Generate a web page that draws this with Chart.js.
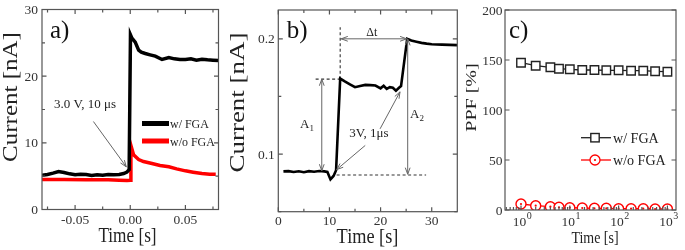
<!DOCTYPE html>
<html lang="en">
<head>
<meta charset="UTF-8">
<title>Current response and PPF</title>
<script src="https://cdn.jsdelivr.net/npm/chart.js"></script>
<style>
  body { margin: 0; background: #fff; }
  canvas { position: absolute; left: 0; top: 0; }
</style>
</head>
<body>
<canvas id="chartA" width="685" height="250"></canvas>
<canvas id="chartB" width="685" height="250"></canvas>
<canvas id="chartC" width="685" height="250"></canvas>
<script>
// ---- panel a) current vs time around the pulse
const aTimeW = [-0.080, -0.075, -0.070, -0.065, -0.060, -0.055, -0.050, -0.045, -0.040, -0.035, -0.030, -0.025, -0.020, -0.015, -0.010, -0.006, -0.003, -0.001, 0.0002, 0.0015, 0.0045, 0.0076, 0.010, 0.0136, 0.018, 0.0227, 0.0288, 0.035, 0.040, 0.045, 0.050, 0.055, 0.060, 0.065, 0.070, 0.075, 0.080];
const aCurW  = [5.15, 5.25, 5.45, 5.7, 5.55, 5.35, 5.2, 5.3, 5.25, 5.1, 5.2, 5.15, 5.25, 5.2, 5.25, 5.4, 5.6, 6.0, 26.2, 25.7, 25.1, 23.9, 23.6, 23.4, 23.2, 23.0, 22.5, 22.8, 22.6, 22.5, 22.5, 22.6, 22.4, 22.55, 22.45, 22.4, 22.35];
const aTimeWo = [-0.080, -0.060, -0.040, -0.020, -0.010, -0.003, 0.0003, 0.0006, 0.003, 0.0076, 0.012, 0.0197, 0.027, 0.035, 0.042, 0.050, 0.057, 0.065, 0.072, 0.0775];
const aCurWo  = [4.5, 4.5, 4.45, 4.45, 4.4, 4.35, 4.4, 9.6, 8.2, 7.5, 7.2, 6.9, 6.6, 6.4, 6.1, 5.8, 5.6, 5.4, 5.3, 5.3];
const aXTicks = [-0.05, 0, 0.05];
const aXLabels = ['-0.05', '0.00', '0.05'];
const aXMinor = [-0.075, -0.025, 0.025, 0.075];
const aYTicks = [0, 10, 20, 30];
const aYMinor = [5, 15, 25];

// ---- panel b) paired pulses
const bTime = [1, 2, 3, 4, 5, 6, 7, 8, 9, 9.6, 10.2, 10.8, 11.3, 12.1, 13, 14, 15, 16, 17, 18, 19, 20, 20.6, 21.2, 21.8, 22.4, 23, 23.6, 24, 25.2, 26, 27, 28, 29, 30, 32, 35];
const bCur  = [0.085, 0.0852, 0.0845, 0.0851, 0.0843, 0.0852, 0.0847, 0.0853, 0.085, 0.0845, 0.078, 0.081, 0.086, 0.1655, 0.163, 0.1605, 0.158, 0.159, 0.16, 0.1598, 0.1595, 0.157, 0.1592, 0.1565, 0.158, 0.1575, 0.155, 0.1575, 0.159, 0.2, 0.1985, 0.1975, 0.1965, 0.1958, 0.1953, 0.195, 0.1945];
const bXTicks = [0, 10, 20, 30];
const bXMinor = [5, 15, 25];
const bYTicks = [0.1, 0.2];
const bYMinor = [0.05, 0.15];

// ---- panel c) PPF vs interval
const cTime = [1, 2, 4, 6, 10, 18, 32, 56, 100, 180, 320, 560, 1000];
const cWith = [147.3, 144.3, 142.7, 141.3, 140.7, 140, 140, 139.7, 139.7, 139.3, 139.3, 138.7, 138.3];
const cWithout = [6, 4.3, 3.3, 2.7, 2.3, 2, 1.7, 1.7, 1.3, 1.3, 1.3, 1, 1];
const cXTicks = [1, 10, 100, 1000];
const cXExp = ['0', '1', '2', '3'];
const cYTicks = [0, 50, 100, 150, 200];

const SERIF = '"Liberation Serif", "DejaVu Serif", serif';

// text with optional rotation and squeeze
function put(ctx, s, x, y, size, o = {}) {
    ctx.save();
    ctx.translate(x, y);
    if (o.rot) ctx.rotate(-Math.PI / 2);
    ctx.scale(o.sx || 1, o.sy || 1);
    ctx.font = size + 'px ' + SERIF;
    ctx.fillStyle = o.color || '#222';
    ctx.textAlign = o.align || 'left';
    ctx.textBaseline = 'alphabetic';
    ctx.fillText(s, 0, 0);
    ctx.restore();
}

function head(ctx, x1, y1, x2, y2) {
    const a = Math.atan2(y2 - y1, x2 - x1), L = 7, w = 0.35;
    ctx.beginPath();
    ctx.moveTo(x2 - L * Math.cos(a - w), y2 - L * Math.sin(a - w));
    ctx.lineTo(x2, y2);
    ctx.lineTo(x2 - L * Math.cos(a + w), y2 - L * Math.sin(a + w));
    ctx.stroke();
}

// arrow in data coordinates
function arrow(chart, x1, y1, x2, y2, both) {
    const {ctx, scales: {x, y}} = chart;
    const p1 = [x.getPixelForValue(x1), y.getPixelForValue(y1)];
    const p2 = [x.getPixelForValue(x2), y.getPixelForValue(y2)];
    ctx.save();
    ctx.strokeStyle = '#666';
    ctx.lineWidth = 1;
    ctx.beginPath(); ctx.moveTo(p1[0], p1[1]); ctx.lineTo(p2[0], p2[1]); ctx.stroke();
    head(ctx, p1[0], p1[1], p2[0], p2[1]);
    if (both) head(ctx, p2[0], p2[1], p1[0], p1[1]);
    ctx.restore();
}

function dashed(chart, x1, y1, x2, y2) {
    const {ctx, scales: {x, y}} = chart;
    ctx.save();
    ctx.strokeStyle = '#333';
    ctx.lineWidth = 1.1;
    ctx.setLineDash([3, 2.5]);
    ctx.beginPath();
    ctx.moveTo(x.getPixelForValue(x1), y.getPixelForValue(y1));
    ctx.lineTo(x.getPixelForValue(x2), y.getPixelForValue(y2));
    ctx.stroke();
    ctx.restore();
}

// box, inward ticks, tick labels
function frame(chart, f) {
    const {ctx, chartArea: ca, scales: {x, y}} = chart;
    ctx.save();
    ctx.strokeStyle = '#555';
    ctx.lineWidth = 1.2;
    ctx.strokeRect(ca.left, ca.top, ca.right - ca.left, ca.bottom - ca.top);
    ctx.beginPath();
    const tx = (v, len) => {
        const p = x.getPixelForValue(v);
        ctx.moveTo(p, ca.bottom); ctx.lineTo(p, ca.bottom - len);
        if (f.top) { ctx.moveTo(p, ca.top); ctx.lineTo(p, ca.top + len); }
    };
    const ty = (v, len) => {
        const p = y.getPixelForValue(v);
        ctx.moveTo(ca.left, p); ctx.lineTo(ca.left + len, p);
        ctx.moveTo(ca.right, p); ctx.lineTo(ca.right - len, p);
    };
    f.xMajor.forEach(v => tx(v, 4.5));
    (f.xMinor || []).forEach(v => tx(v, 3));
    f.yMajor.forEach(v => ty(v, 4.5));
    (f.yMinor || []).forEach(v => ty(v, 3));
    ctx.stroke();
    ctx.restore();
    if (f.xLabels) {
        f.xMajor.forEach((v, i) => put(ctx, f.xLabels[i], x.getPixelForValue(v), ca.bottom + f.xBase, 13.5, {align: 'center', color: '#333'}));
    }
    f.yMajor.forEach((v, i) => put(ctx, f.yLabels[i], ca.left - f.yGap, y.getPixelForValue(v) + 4.6, 13.5, {align: 'right', color: '#333'}));
}

function baseOptions(pad, xOpt, yOpt) {
    return {
        responsive: false,
        animation: false,
        layout: { padding: pad },
        plugins: { legend: { display: false }, tooltip: { enabled: false } },
        scales: {
            x: Object.assign({ display: false }, xOpt),
            y: Object.assign({ display: false }, yOpt)
        }
    };
}

const xy = (xs, ys) => xs.map((v, i) => ({ x: v, y: ys[i] }));

// ---------- chart a
new Chart(document.getElementById('chartA'), {
    type: 'line',
    data: {
        datasets: [
            { data: xy(aTimeW, aCurW), borderColor: '#000', borderWidth: 3.5, pointRadius: 0, order: 0 },
            { data: xy(aTimeWo, aCurWo), borderColor: '#ff0000', borderWidth: 3.5, pointRadius: 0, order: 1 }
        ]
    },
    options: baseOptions({ left: 42, right: 466.5, top: 9.5, bottom: 40.5 },
        { type: 'linear', min: -0.08, max: 0.08 }, { min: 0, max: 30 }),
    plugins: [{
        id: 'panelA',
        afterDatasetsDraw(chart) {
            const {ctx, chartArea: ca} = chart;
            frame(chart, { xMajor: aXTicks, xMinor: aXMinor, xLabels: aXLabels, xBase: 14.5,
                           yMajor: aYTicks, yMinor: aYMinor, yLabels: aYTicks.map(String), yGap: 4, top: true });
            put(ctx, 'a)', ca.left + 8, ca.top + 28, 25, { color: '#111' });
            put(ctx, '3.0 V, 10 \u03bcs', chart.scales.x.getPixelForValue(-0.041), chart.scales.y.getPixelForValue(15.3), 13, { align: 'center' });
            arrow(chart, -0.0334, 13.2, -0.0036, 6.4);
            // legend
            const lx = ca.left + 100, ly = [ca.top + 114, ca.top + 131.5];
            ctx.save();
            ctx.lineWidth = 5;
            ctx.strokeStyle = '#000';
            ctx.beginPath(); ctx.moveTo(lx, ly[0]); ctx.lineTo(lx + 27, ly[0]); ctx.stroke();
            ctx.strokeStyle = '#ff0000';
            ctx.beginPath(); ctx.moveTo(lx, ly[1]); ctx.lineTo(lx + 27, ly[1]); ctx.stroke();
            ctx.restore();
            put(ctx, 'w/ FGA', lx + 28, ly[0] + 4.5, 13, { sx: 0.92 });
            put(ctx, 'w/o FGA', lx + 28, ly[1] + 4.5, 13, { sx: 0.92 });
            // axis titles
            put(ctx, 'Time [s]', 127.5, 241.5, 21, { align: 'center', sx: 0.82 });
            put(ctx, 'Current [nA]', 17, 97, 25, { align: 'center', rot: true, sy: 0.85 });
        }
    }]
});

// ---------- chart b
new Chart(document.getElementById('chartB'), {
    type: 'line',
    data: {
        datasets: [
            { data: xy(bTime, bCur), borderColor: '#000', borderWidth: 2.6, pointRadius: 0 }
        ]
    },
    options: baseOptions({ left: 278.3, right: 227.7, top: 10, bottom: 38.3 },
        { type: 'linear', min: 0, max: 35 }, { min: 0.05, max: 0.225 }),
    plugins: [{
        id: 'panelB',
        beforeDatasetsDraw(chart) {
            dashed(chart, 7.3, 0.165, 12.1, 0.165);
            dashed(chart, 12.1, 0.165, 12.1, 0.21);
            dashed(chart, 11.4, 0.0818, 28.9, 0.0818);
        },
        afterDatasetsDraw(chart) {
            const {ctx, chartArea: ca, scales: {x, y}} = chart;
            frame(chart, { xMajor: bXTicks, xMinor: bXMinor, xLabels: bXTicks.map(String), xBase: 13.5,
                           yMajor: bYTicks, yMinor: bYMinor, yLabels: ['0.1', '0.2'], yGap: 3.5, top: true });
            put(ctx, 'b)', ca.left + 8.4, ca.top + 28, 25, { color: '#111' });
            arrow(chart, 12.3, 0.2, 25.1, 0.2, true);
            put(ctx, '\u0394t', x.getPixelForValue(18.3), y.getPixelForValue(0.2025), 12, { align: 'center' });
            arrow(chart, 8.5, 0.165, 8.5, 0.0855, true);
            arrow(chart, 25.3, 0.2, 25.3, 0.0825, true);
            const a1x = x.getPixelForValue(4.25), a1y = y.getPixelForValue(0.123);
            put(ctx, 'A', a1x, a1y, 13);
            put(ctx, '1', a1x + 9.5, a1y + 3, 9);
            const a2x = x.getPixelForValue(25.75), a2y = y.getPixelForValue(0.131);
            put(ctx, 'A', a2x, a2y, 13);
            put(ctx, '2', a2x + 9.5, a2y + 3, 9);
            put(ctx, '3V, 1\u03bcs', x.getPixelForValue(17.7), y.getPixelForValue(0.1152), 13, { align: 'center' });
            arrow(chart, 19.9, 0.1219, 23.8, 0.154);
            arrow(chart, 17.0, 0.1075, 11.4, 0.0865);
            put(ctx, 'Time [s]', 367.5, 243, 21, { align: 'center', sx: 0.87 });
            put(ctx, 'Current [nA]', 244, 102.5, 27, { align: 'center', rot: true, sy: 0.8 });
        }
    }]
});

// ---------- chart c
const cMinor = [];
[0.1, 1, 10, 100].forEach(d => { for (let k = 2; k <= 9; k++) { const v = d * k; if (v > 0.47 && v < 1500) cMinor.push(v); } });

new Chart(document.getElementById('chartC'), {
    type: 'line',
    data: {
        labels: cTime,
        datasets: [
            { data: xy(cTime, cWithout), showLine: false, pointRadius: 1.1, pointBackgroundColor: '#ff0000', pointBorderWidth: 0, order: 0, clip: 0 },
            { data: xy(cTime, cWithout), borderColor: '#ff0000', borderWidth: 1.3, pointStyle: 'circle', pointRadius: 5,
              pointBorderColor: '#ff0000', pointBackgroundColor: '#fff', pointBorderWidth: 1.4, order: 1, clip: 0 },
            { data: xy(cTime, cWith), borderColor: '#222', borderWidth: 1.3, pointStyle: 'rect', pointRadius: 6,
              pointBorderColor: '#222', pointBackgroundColor: '#fff', pointBorderWidth: 1.4, order: 2 }
        ]
    },
    options: baseOptions({ left: 505, right: 9, top: 10, bottom: 40 },
        { type: 'logarithmic', min: 0.47, max: 1500 }, { min: 0, max: 200 }),
    plugins: [{
        id: 'panelC',
        afterDatasetsDraw(chart) {
            const {ctx, chartArea: ca, scales: {x}} = chart;
            frame(chart, { xMajor: cXTicks, xMinor: cMinor, yMajor: cYTicks, yLabels: cYTicks.map(String), yGap: 2.5, top: false });
            // log labels 10^n
            cXTicks.forEach((v, i) => {
                ctx.font = '13.5px ' + SERIF;
                const w1 = ctx.measureText('10').width;
                ctx.font = '10px ' + SERIF;
                const w2 = ctx.measureText(cXExp[i]).width;
                const left = x.getPixelForValue(v) - (w1 + w2) / 2 + 1;
                put(ctx, '10', left, ca.bottom + 16, 13.5, { color: '#333' });
                put(ctx, cXExp[i], left + w1 + 0.5, ca.bottom + 9, 10, { color: '#333' });
            });
            put(ctx, 'c)', ca.left + 4, ca.top + 28, 25, { color: '#111' });
            // legend
            const lx = ca.left + 76, mx = ca.left + 90, ly = [ca.top + 127.7, ca.top + 150];
            ctx.save();
            ctx.lineWidth = 1.3;
            ctx.strokeStyle = '#222';
            ctx.beginPath(); ctx.moveTo(lx, ly[0]); ctx.lineTo(lx + 30, ly[0]); ctx.stroke();
            ctx.fillStyle = '#fff';
            ctx.lineWidth = 1.4;
            ctx.fillRect(mx - 4.2, ly[0] - 4.2, 8.4, 8.4);
            ctx.strokeRect(mx - 4.2, ly[0] - 4.2, 8.4, 8.4);
            ctx.strokeStyle = '#ff0000';
            ctx.lineWidth = 1.3;
            ctx.beginPath(); ctx.moveTo(lx, ly[1]); ctx.lineTo(lx + 30, ly[1]); ctx.stroke();
            ctx.beginPath(); ctx.arc(mx, ly[1], 5, 0, Math.PI * 2); ctx.fill(); ctx.stroke();
            ctx.fillStyle = '#ff0000';
            ctx.beginPath(); ctx.arc(mx, ly[1], 1.1, 0, Math.PI * 2); ctx.fill();
            ctx.restore();
            put(ctx, 'w/ FGA', lx + 32, ly[0] + 5, 14.5, { sx: 0.97 });
            put(ctx, 'w/o FGA', lx + 32, ly[1] + 5, 14.5, { sx: 0.97 });
            put(ctx, 'Time [s]', 595, 243, 17, { align: 'center', sx: 0.82 });
            put(ctx, 'PPF [%]', 475.5, 97.5, 20, { align: 'center', rot: true, sy: 0.72 });
        }
    }]
});
</script>
</body>
</html>
